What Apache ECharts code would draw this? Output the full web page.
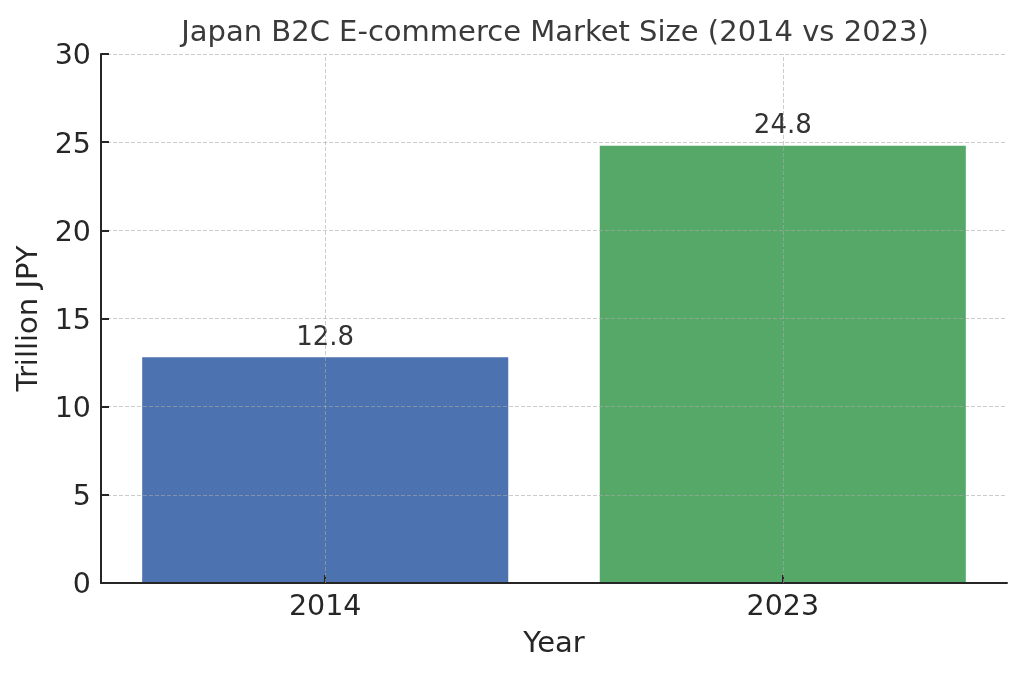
<!DOCTYPE html>
<html>
<head>
<meta charset="utf-8">
<script src="https://cdn.jsdelivr.net/npm/echarts@6/dist/echarts.min.js"></script>
<style>
html,body{margin:0;padding:0;background:#fff;}
#chart{width:1024px;height:677px;}
</style>
</head>
<body>
<div id="chart"></div>
<script>
const years = ['2014', '2023'];
const marketSize = [12.8, 24.8];
const barColors = ['#4C72B0', '#55A868'];
const yTicks = [0, 5, 10, 15, 20, 25, 30];
const titleText = 'Japan B2C E-commerce Market Size (2014 vs 2023)';

const FONT = 'DejaVu Sans';
const positions = years.map((y, i) => i);

const chart = echarts.init(document.getElementById('chart'));
chart.setOption({
  backgroundColor: '#ffffff',
  animation: false,
  title: {
    text: titleText,
    left: 550,
    top: 14,
    textAlign: 'center',
    textStyle: { fontFamily: FONT, fontSize: 29, fontWeight: 'normal', color: '#3a3a3a' }
  },
  grid: { left: 101, right: 17, top: 54, bottom: 94, containLabel: false },
  xAxis: {
    type: 'value',
    min: -0.49,
    max: 1.49,
    z: 6,
    name: 'Year',
    nameLocation: 'middle',
    nameGap: 47,
    nameTextStyle: { fontFamily: FONT, fontSize: 29, color: '#262626' },
    axisLine: { show: true, onZero: false, lineStyle: { color: '#262626', width: 2 } },
    axisTick: { show: true, inside: true, length: 8, customValues: positions, lineStyle: { color: '#262626', width: 2 } },
    axisLabel: {
      show: true, margin: 10, customValues: positions,
      fontFamily: FONT, fontSize: 28.5, color: '#262626',
      formatter: v => years[Math.round(v)]
    },
    splitLine: { show: false }
  },
  yAxis: {
    type: 'value',
    min: yTicks[0],
    max: yTicks[yTicks.length - 1],
    interval: yTicks[1] - yTicks[0],
    z: 5,
    name: 'Trillion JPY',
    nameLocation: 'middle',
    nameGap: 57,
    nameTextStyle: { fontFamily: FONT, fontSize: 29, color: '#262626' },
    axisLine: { show: true, onZero: false, lineStyle: { color: '#262626', width: 2 } },
    axisTick: { show: true, inside: true, length: 8, lineStyle: { color: '#262626', width: 2 } },
    axisLabel: {
      margin: 10,
      formatter: '{t|{value}}',
      rich: { t: { fontFamily: FONT, fontSize: 28.5, color: '#262626', padding: [6, 0, 0, 0] } }
    },
    splitLine: { show: true, lineStyle: { color: 'rgba(170,170,170,0.6)', width: 1, type: [4, 2] } }
  },
  series: [{
    type: 'bar',
    barWidth: '80%',
    data: marketSize.map((v, i) => ({ value: [positions[i], v], itemStyle: { color: barColors[i] } })),
    label: {
      show: true,
      position: 'top',
      distance: 6,
      fontFamily: FONT, fontSize: 26, color: '#333333',
      formatter: p => p.value[1].toFixed(1)
    },
    markLine: {
      silent: true,
      symbol: 'none',
      label: { show: false },
      z: 10,
      lineStyle: { color: 'rgba(170,170,170,0.6)', width: 1, type: [4, 2] },
      data: positions.map(p => ({ xAxis: p }))
    }
  }]
});
</script>
</body>
</html>
